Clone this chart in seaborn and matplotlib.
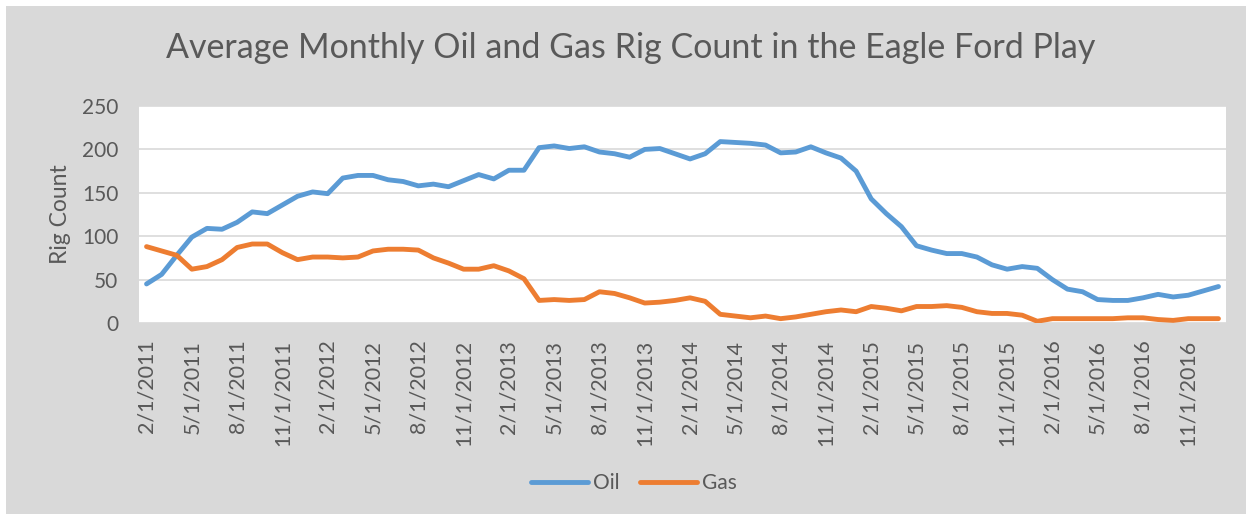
import matplotlib
matplotlib.use("Agg")
import matplotlib.pyplot as plt
import seaborn as sns
import pandas as pd
import numpy as np
from matplotlib.patches import Rectangle
from matplotlib.lines import Line2D

months = pd.date_range("2011-02-01", periods=72, freq="MS")
month_labels = [f"{d.month}/1/{d.year}" for d in months]

oil = [45, 56, 78, 99, 109, 108, 116, 128, 126, 136, 146, 151, 149, 167, 170, 170, 165, 163, 158, 160,
       157, 164, 171, 166, 176, 176, 202, 204, 201, 203, 197, 195, 191, 200, 201, 195, 189, 195, 209, 208,
       207, 205, 196, 197, 203, 196, 190, 175, 143, 126, 111, 89, 84, 80, 80, 76, 67, 62, 65, 63,
       50, 39, 36, 27, 26, 26, 29, 33, 30, 32, 37, 42]
gas = [88, 83, 78, 62, 65, 73, 87, 91, 91, 81, 73, 76, 76, 75, 76, 83, 85, 85, 84, 75,
       69, 62, 62, 66, 60, 51, 26, 27, 26, 27, 36, 34, 29, 23, 24, 26, 29, 25, 10, 8,
       6, 8, 5, 7, 10, 13, 15, 13, 19, 17, 14, 19, 19, 20, 18, 13, 11, 11, 9, 2,
       5, 5, 5, 5, 5, 6, 6, 4, 3, 5, 5, 5]

series_names = ["Oil", "Gas"]
colors = {"Oil": "#5B9BD5", "Gas": "#ED7D31"}
yticks = [0, 50, 100, 150, 200, 250]

df = pd.DataFrame({
    "idx": list(range(len(oil))) * 2,
    "value": oil + gas,
    "series": ["Oil"] * len(oil) + ["Gas"] * len(gas),
})

sns.set_theme(style="white")
plt.rcParams["font.family"] = ["Lato", "DejaVu Sans"]

fig = plt.figure(figsize=(12.5, 5.18), dpi=100, facecolor="white")
W, H = 1250, 518
fig.patches.append(Rectangle((6 / W, 4 / H), (1246 - 6) / W, (512 - 4) / H,
                             transform=fig.transFigure, facecolor="#D9D9D9",
                             edgecolor="none", zorder=-10))

ax = fig.add_axes([139 / W, 1 - 323 / H, (1226 - 139) / W, (323 - 106) / H])
ax.set_facecolor("white")

sns.lineplot(data=df, x="idx", y="value", hue="series", hue_order=series_names,
             palette=colors, linewidth=3.5, ax=ax, legend=False)
for ln in ax.lines:
    ln.set_solid_capstyle("round")
    ln.set_solid_joinstyle("round")

ax.set_xlim(-0.5, len(oil) - 0.5)
ax.set_ylim(0, 250)
ax.set_yticks(yticks)
ax.set_yticklabels([str(v) for v in yticks], fontsize=15, color="#595959")
tick_pos = list(range(0, len(oil), 3))
ax.set_xticks(tick_pos)
ax.set_xticklabels([month_labels[i] for i in tick_pos], rotation=90, fontsize=15.5,
                   color="#595959")
ax.tick_params(axis="x", length=0, pad=12)
ax.tick_params(axis="y", length=0, pad=15)
ax.grid(axis="y", color="#D9D9D9", linewidth=1.2)
ax.set_axisbelow(True)
for s in ax.spines.values():
    s.set_visible(False)
ax.set_xlabel("")
ax.set_ylabel("Rig Count", fontsize=16.5, color="#595959", labelpad=8)

fig.text(631 / W, 1 - 48 / H, "Average Monthly Oil and Gas Rig Count in the Eagle Ford Play",
         ha="center", va="center", fontsize=24.5, color="#595959")

handles = [Line2D([0], [0], color=colors[n], linewidth=3.5, solid_capstyle="round") for n in series_names]
fig.legend(handles, series_names, loc="center", bbox_to_anchor=(634 / W, 1 - 483 / H), ncol=2,
           frameon=False, fontsize=15, labelcolor="#595959", handlelength=2.7,
           handletextpad=0.25, columnspacing=1.0)

fig.savefig("out.png", dpi=100, facecolor=fig.get_facecolor())
